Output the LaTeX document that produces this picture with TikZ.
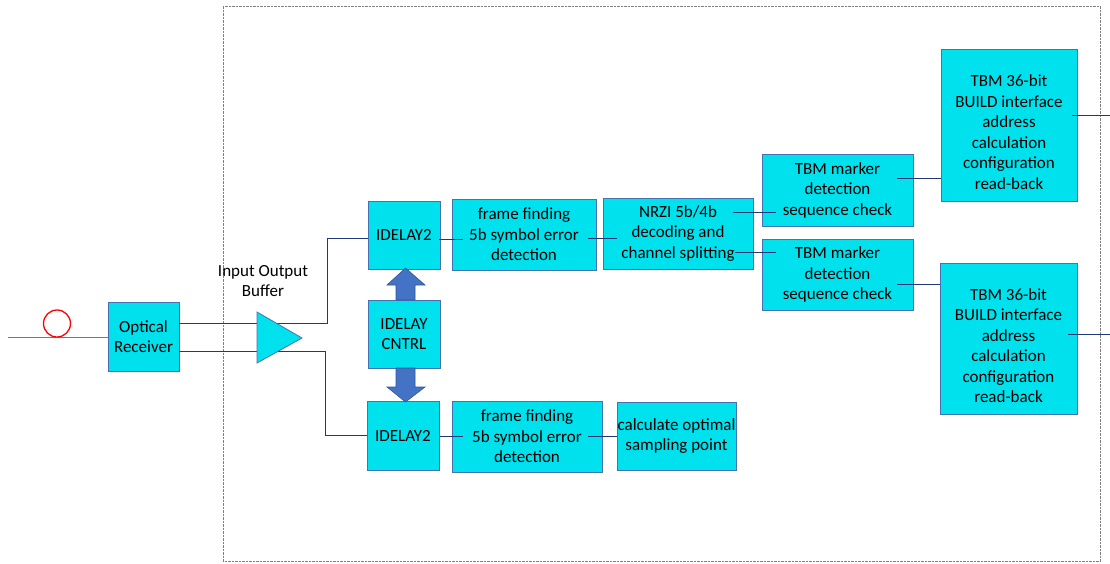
\documentclass[tikz,border=0pt]{standalone}
\usepackage{fontspec}
\setmainfont{Carlito}
\definecolor{boxfill}{RGB}{0,225,238}
\definecolor{boxline}{RGB}{70,114,180}
\definecolor{connline}{RGB}{31,56,120}
\definecolor{arrfill}{RGB}{68,114,196}
\definecolor{arrline}{RGB}{47,85,151}
\tikzset{
  blk/.style={draw=boxline, fill=boxfill, line width=0.8pt, inner sep=0pt, align=center,
    font=\fontsize{17}{20.5}\selectfont},
  txt/.style={inner sep=0pt, align=center, font=\fontsize{17}{20.5}\selectfont},
  conn/.style={draw=connline, line width=0.9pt},
  blockarrow/.style={fill=arrfill, draw=arrline, line width=0.6pt},
  dashbox/.style={draw=gray, line width=0.6pt, dash pattern=on 2.5pt off 1pt},
}
\begin{document}
\begin{tikzpicture}[x=1pt,y=-1pt]
\useasboundingbox (0,0) rectangle (1110,563);
% outer dashed frame
\draw[dashbox] (223,6) rectangle (1100,561);
% optical fibre
\draw[red!75, line width=1pt] (8,337) -- (108,337);
\draw[red, line width=1.3pt] (57,323.5) circle (13.5);
% boxes
\node[blk, minimum width=71pt, minimum height=69pt] (opt) at (143.5,336.5) {Optical\\Receiver};
\node[blk, minimum width=72pt, minimum height=68pt] (id1) at (404,235) {IDELAY2};
\node[blk, minimum width=144pt, minimum height=71pt] (ff1) at (524,234.5) {frame finding\\5b symbol error\\detection};
\node[blk, minimum width=150pt, minimum height=71pt] (nrzi) at (678,233.5) {NRZI 5b/4b\\decoding and\\channel splitting};
\node[blk, minimum width=151pt, minimum height=72pt] (tbm1) at (837.5,190) {TBM marker\\detection\\sequence check};
\node[blk, minimum width=151pt, minimum height=71pt] (tbm2) at (837.5,274.5) {TBM marker\\detection\\sequence check};
\node[blk, minimum width=136pt, minimum height=152pt] (b1) at (1009,125) {};
\node[txt] (b1t) at ([yshift=-7pt]b1.center) {TBM 36-bit\\BUILD interface\\address\\calculation\\configuration\\read-back};
\node[blk, minimum width=137pt, minimum height=151pt] (b2) at (1008.5,338.5) {};
\node[txt] (b2t) at ([yshift=-7pt]b2.center) {TBM 36-bit\\BUILD interface\\address\\calculation\\configuration\\read-back};
\node[blk, minimum width=72pt, minimum height=68pt] (cntrl) at (404,334) {IDELAY\\CNTRL};
\node[blk, minimum width=72pt, minimum height=69pt] (id2) at (403,435.5) {IDELAY2};
\node[blk, minimum width=150pt, minimum height=71pt] (ff2) at (527,436.5) {frame finding\\5b symbol error\\detection};
\node[blk, minimum width=119pt, minimum height=68pt] (calc) at (676.5,436) {calculate optimal\\sampling point};
% lines from receiver through buffer
\draw[conn] ([yshift=13.5pt]opt.east) -- (327,323) |- ([yshift=-3pt]id1.west);
\draw[conn] ([yshift=-14.5pt]opt.east) -- (325,351) |- (id2.west);
% buffer triangle
\draw[fill=boxfill, draw=boxline, line width=0.8pt] (257,312) -- (302,338) -- (257,363) -- cycle;
\node[txt] (buflabel) at (263,281) {Input Output\\Buffer};
% block arrows
\draw[blockarrow] (396,300) -- (396,285) -- (387,285) -- (405.5,268) -- (425,285) -- (415,285) -- (415,300) -- cycle;
\draw[blockarrow] (396,368) -- (396,387) -- (387,387) -- (405.5,402) -- (425,387) -- (415,387) -- (415,368) -- cycle;
% connectors
\draw[conn] ([xshift=-1pt,yshift=-4pt]id1.east) -- ([xshift=11pt,yshift=-4.5pt]ff1.west);
\draw[conn] ([xshift=-8pt,yshift=-3.5pt]ff1.east) -- ([xshift=14pt,yshift=-4.5pt]nrzi.west);
\draw[conn] ([xshift=-20pt,yshift=21.5pt]nrzi.east) -- ([xshift=14pt,yshift=-22pt]tbm1.west);
\draw[conn] ([xshift=-18pt,yshift=-18.5pt]nrzi.east) -- ([xshift=14pt,yshift=22.5pt]tbm2.west);
\draw[conn] ([xshift=-16pt,yshift=12pt]tbm1.east) -- ([yshift=-53pt]b1.west);
\draw[conn] ([xshift=-16pt,yshift=-9.5pt]tbm2.east) -- ([yshift=54.5pt]b2.west);
\coordinate (out1) at (1110,115);
\coordinate (out2) at (1110,334);
\draw[conn] ([xshift=-5pt,yshift=10pt]b1.east) -- (out1);
\draw[conn] ([xshift=-9pt,yshift=4.5pt]b2.east) -- (out2);
\draw[conn] ([xshift=1pt,yshift=-0.5pt]id2.east) -- ([xshift=11pt,yshift=0.5pt]ff2.west);
\draw[conn] ([xshift=-14pt,yshift=0.5pt]ff2.east) -- (calc.west);
\end{tikzpicture}
\end{document}
